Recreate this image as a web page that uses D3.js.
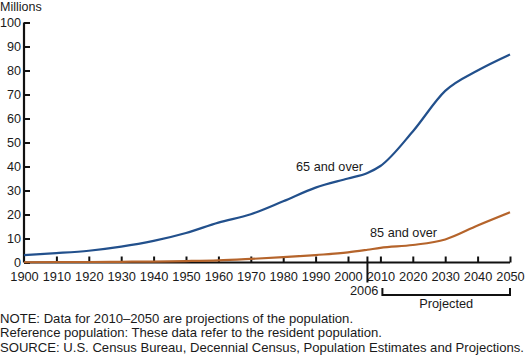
<!DOCTYPE html>
<html><head><meta charset="utf-8">
<script src="https://cdn.jsdelivr.net/npm/d3@7"></script>
<style>
body{margin:0;background:#fff;}
text{font-family:"Liberation Sans",Arial,Helvetica,sans-serif;fill:#1a1a1a;}
</style></head>
<body><svg id="c" width="526" height="356"></svg>
<script>
const years = [1900,1910,1920,1930,1940,1950,1960,1970,1980,1990,2000,2006,2010,2020,2030,2040,2050];
const over65 = [3.1,3.9,4.9,6.6,9.0,12.3,16.6,20.1,25.5,31.2,35.0,37.3,40.2,54.6,71.5,80.0,86.7];
const over85 = [0.1,0.2,0.2,0.3,0.4,0.6,0.9,1.5,2.2,3.1,4.2,5.3,6.1,7.3,9.6,15.4,20.9];
const xTicks = [1900,1910,1920,1930,1940,1950,1960,1970,1980,1990,2000,2010,2020,2030,2040,2050];
const yTicks = [0,10,20,30,40,50,60,70,80,90,100];
const notes = [
 "NOTE: Data for 2010\u20132050 are projections of the population.",
 "Reference population: These data refer to the resident population.",
 "SOURCE: U.S. Census Bureau, Decennial Census, Population Estimates and Projections."
];
const svg = d3.select("#c");
const x = d3.scaleLinear().domain([1900,2050]).range([24,510]);
const y = d3.scaleLinear().domain([0,100]).range([262.5,22.5]);

// y axis
const ya = svg.append("g").attr("transform","translate(24,0)")
  .call(d3.axisRight(y).tickValues(yTicks).tickSize(6).tickFormat(d3.format("d")));
ya.select(".domain").attr("stroke","#111").attr("stroke-width",2.2).attr("d","M0,"+y(100)+"V"+y(0));
ya.selectAll(".tick line").attr("stroke","#111").attr("stroke-width",2);
ya.selectAll(".tick text").attr("x",-3).attr("dy","0.3em").attr("text-anchor","end").attr("font-size",12.6).attr("fill","#1a1a1a")
  .style("font-family","Liberation Sans, Arial, sans-serif");

// x axis
const xa = svg.append("g").attr("transform","translate(0,"+y(0)+")")
  .call(d3.axisTop(x).tickValues(xTicks).tickSize(6).tickFormat(d3.format("d")));
xa.select(".domain").attr("stroke","#111").attr("stroke-width",2.2).attr("d","M"+x(1900)+",0H"+x(2050));
xa.selectAll(".tick line").attr("stroke","#111").attr("stroke-width",2);
xa.selectAll(".tick text").attr("y",18).attr("font-size",12.8).attr("fill","#1a1a1a")
  .style("font-family","Liberation Sans, Arial, sans-serif");
xa.selectAll(".tick").filter(d=>d===1900).select("line").remove();

// 2006 divider tick
svg.append("line").attr("x1",x(2006)).attr("x2",x(2006)).attr("y1",y(0)-6).attr("y2",y(0)+20)
  .attr("stroke","#111").attr("stroke-width",2);
svg.append("text").attr("x",x(2006)+11).attr("y",295).attr("text-anchor","end").attr("font-size",12.8).text("2006");
// projected bracket
const bx1 = x(2010)+2, bx2 = x(2050);
svg.append("path").attr("d","M"+bx1+",288V295H"+bx2+"V288").attr("fill","none").attr("stroke","#111").attr("stroke-width",2);
svg.append("text").attr("x",(bx1+bx2)/2).attr("y",308).attr("text-anchor","middle").attr("font-size",12.8).text("Projected");

// lines
const line = d3.line().x(d=>x(d[0])).y(d=>y(d[1])).curve(d3.curveMonotoneX);
svg.append("path").datum(years.map((yr,i)=>[yr,over65[i]])).attr("d",line)
  .attr("fill","none").attr("stroke","#22508c").attr("stroke-width",2.2);
svg.append("path").datum(years.map((yr,i)=>[yr,over85[i]])).attr("d",line)
  .attr("fill","none").attr("stroke","#b5642b").attr("stroke-width",2.2);

svg.append("text").attr("x",296).attr("y",171).attr("font-size",12.7).text("65 and over");
svg.append("text").attr("x",370).attr("y",237).attr("font-size",12.7).text("85 and over");

svg.append("text").attr("x",0).attr("y",11).attr("font-size",12.5).text("Millions");

svg.selectAll("text.note").data(notes).enter().append("text").attr("class","note")
  .attr("x",0).attr("y",(d,i)=>323+i*14.3).attr("font-size",13.1).text(d=>d);
</script></body></html>
